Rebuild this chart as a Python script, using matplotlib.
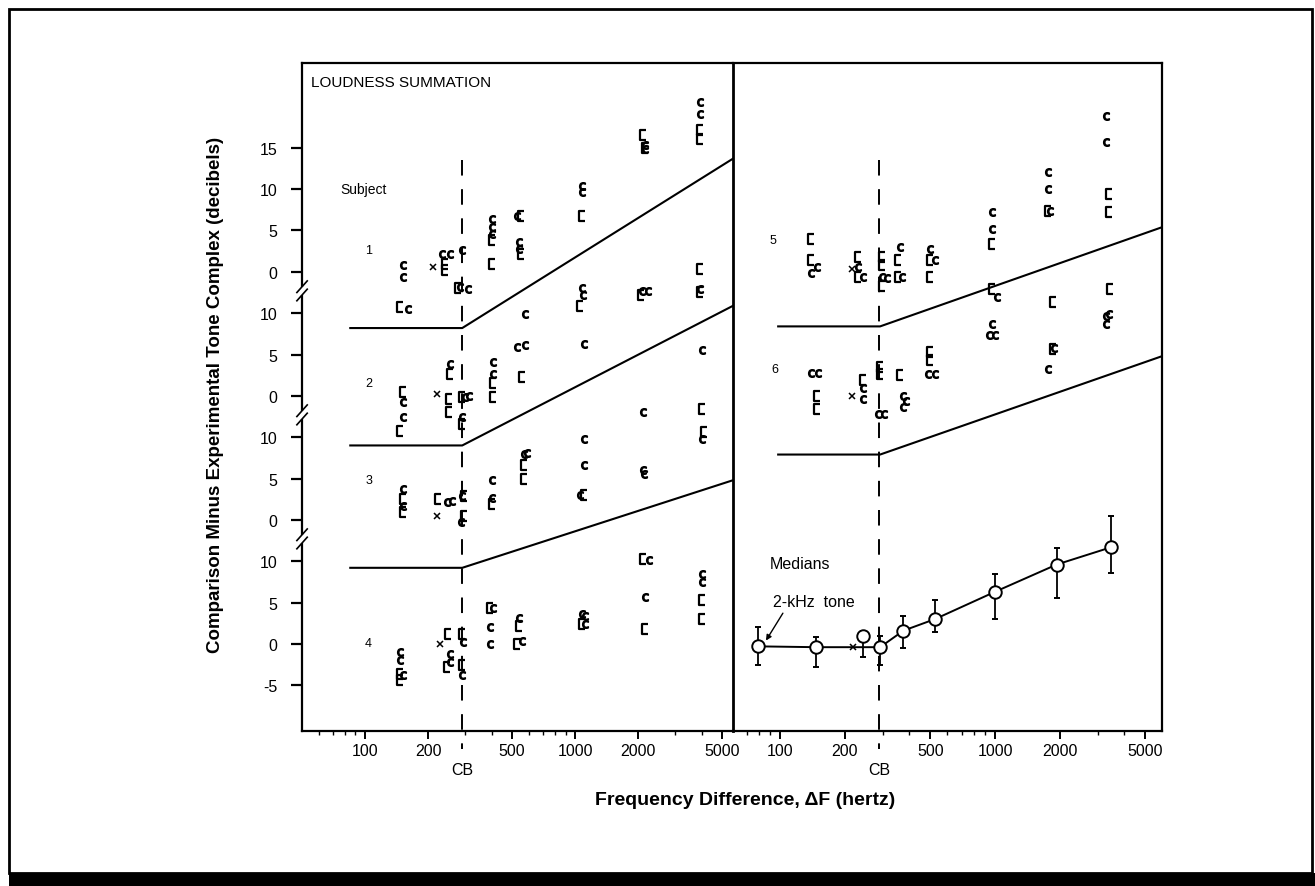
import numpy as np
import matplotlib
matplotlib.use("Agg")
import matplotlib.pyplot as plt
import matplotlib.ticker as ticker
import matplotlib.transforms as mtransforms
from matplotlib.patches import Rectangle
from matplotlib.path import Path

plt.rcParams["font.family"] = ["Liberation Sans", "DejaVu Sans"]

# ---- data (dB relative to each subject's own zero, frequency difference in Hz) ----
CB_HZ = 290

# vertical stacking of subjects (dB shift on the shared axis)
OFFSETS = {1: 0, 2: -15, 3: -30, 4: -45, 5: 0, 6: -15, "med": -45}
SUBJ_TICKS = {1: [0, 5, 10, 15], 2: [0, 5, 10], 3: [0, 5, 10], 4: [-5, 0, 5, 10]}

# "c" symbols and "[" symbols per subject
S1_C_HZ = [152, 152, 160, 232, 254, 289, 283, 308, 401, 401, 401, 527, 540, 540,
           1076, 1076, 1076, 1090, 2150, 2150, 2090, 2230, 3940, 3940, 3940]
S1_C_DB = [0.8, -0.6, -4.5, 2.2, 2.2, 2.6, -1.8, -2.1, 6.4, 5.4, 4.6, 6.8, 3.6, 2.8,
           10.4, 9.6, -2.0, -2.8, 15.4, 14.9, -2.3, -2.3, 20.5, 19.1, -2.1]
S1_B_HZ = [147, 240, 240, 276, 401, 401, 553, 553, 1076, 1060, 2115, 2150, 2060,
           3940, 3940, 3940, 3940]
S1_B_DB = [-4.3, 1.0, 0.2, -2.0, 3.8, 0.9, 6.8, 2.2, 6.8, -4.1, 16.6, 15.0, -2.8,
           17.1, 16.1, 0.4, -2.5]

S2_C_HZ = [578, 527, 578, 1096, 4009, 254, 408, 408, 300, 312, 290, 152, 152, 2115]
S2_C_DB = [9.9, 5.9, 6.1, 6.3, 5.5, 3.9, 4.1, 2.7, -0.1, 0.0, -2.5, -0.8, -2.6, -2.0]
S2_B_HZ = [254, 408, 408, 557, 250, 250, 288, 290, 152, 147, 4009]
S2_B_DB = [2.7, 1.5, -0.2, 2.3, -0.4, -2.0, -0.1, -3.4, 0.45, -4.2, -1.6]

S3_C_HZ = [4009, 1096, 1096, 2115, 2130, 568, 590, 1060, 401, 401, 152, 152, 245, 258, 290, 287]
S3_C_DB = [9.8, 9.8, 6.6, 6.0, 5.6, 8.0, 8.1, 3.0, 4.8, 2.6, 3.7, 1.7, 2.1, 2.3, 2.9, -0.3]
S3_B_HZ = [4100, 568, 568, 1096, 401, 152, 152, 223, 296, 297]
S3_B_DB = [10.6, 6.6, 5.0, 3.0, 1.9, 2.55, 0.9, 2.5, 2.9, 0.5]

S4_C_HZ = [147, 147, 152, 254, 254, 292, 290, 405, 394, 394, 538, 560, 1076, 1120, 1120,
           2250, 2150, 4000, 4000]
S4_C_DB = [-1.0, -2.0, -3.8, -1.2, -2.2, 0.2, -3.8, 4.3, 2.0, 0.0, 3.1, 0.4, 3.6, 3.4, 2.4,
           10.1, 5.7, 8.5, 7.5]
S4_B_HZ = [147, 147, 249, 245, 288, 288, 394, 538, 530, 1076, 2100, 2150, 4000, 4000]
S4_B_DB = [-3.6, -4.4, 1.2, -2.8, 1.2, -2.6, 4.3, 2.2, 0.0, 2.4, 10.3, 1.8, 5.3, 3.0]

S5_C_HZ = [148, 140, 231, 244, 297, 313, 361, 370, 499, 526, 966, 966, 1018, 1770, 1770,
           1800, 3300, 3300]
S5_C_DB = [0.6, -0.2, 0.6, -0.6, -0.6, -0.7, 3.0, -0.6, 2.8, 1.4, 7.2, 5.2, -3.1, 12.1, 10.0,
           7.4, 18.9, 15.7]
S5_B_HZ = [140, 140, 231, 231, 297, 297, 297, 355, 355, 499, 499, 966, 966, 1770, 1870,
           3400, 3400, 3430]
S5_B_DB = [4.0, 1.4, 1.8, -0.6, 1.8, 0.8, -1.7, 1.4, -0.6, 1.4, -0.6, 3.4, -2.1, 7.4, -3.7,
           9.4, 7.2, -2.1]

S6_C_HZ = [3300, 3400, 3300, 966, 940, 1000, 1880, 1770, 490, 526, 375, 385, 375, 285, 305,
           244, 244, 140, 150]
S6_C_DB = [9.7, 9.9, 8.7, 8.7, 7.3, 7.3, 5.8, 3.3, 2.7, 2.7, 0.0, -0.6, -1.3, -2.2, -2.2,
           0.9, -0.4, 2.8, 2.8]
S6_B_HZ = [1870, 499, 499, 361, 292, 292, 244, 148, 148]
S6_B_DB = [5.7, 5.3, 4.3, 2.5, 3.5, 2.7, 1.9, 0.0, -1.6]

# "x" symbols (subjects 1-4 left, 5-6 right)
X_SUBJ = [1, 2, 3, 4, 5, 6]
X_HZ = [210, 219, 219, 228, 215, 215]
X_DB = [0.6, 0.2, 0.5, 0.0, 0.4, 0.0]

# prediction lines
LINE_L_HZ = [85, 290, 5650]
LINE_L_DB = {1: [-6.8, -6.8, 13.7], 2: [-6.0, -6.0, 10.9], 3: [-5.8, -5.8, 4.8]}
LINE_R_HZ = [98, 292, 5985]
LINE_R_DB = {5: [-6.6, -6.6, 5.4], 6: [-7.1, -7.1, 4.8]}

# medians (first point = 2-kHz tone)
MED_HZ = [79, 147, 244, 292, 375, 526, 1000, 1937, 3480]
MED_DB = [-0.3, -0.4, 1.0, -0.4, 1.6, 3.0, 6.3, 9.6, 11.7]
MED_HI = [2.0, 0.8, 1.6, 1.0, 3.4, 5.3, 8.4, 11.6, 15.5]
MED_LO = [-2.6, -2.8, -1.6, -2.6, -0.5, 1.4, 3.0, 5.6, 8.6]
MED_LINE_HZ = [79, 147, 218, 292, 375, 526, 1000, 1937, 3480]
MED_LINE_DB = [-0.3, -0.4, -0.4, -0.4, 1.6, 3.0, 6.3, 9.6, 11.7]
MED_X = (218, -0.4)

XTICKS = [100, 200, 500, 1000, 2000, 5000]

# symbol shapes: open "c" and a short square bracket
C_MARK = r"$\mathsf{c}$"
B_MARK = Path([(0.35, 0.5), (-0.35, 0.5), (-0.35, -0.5), (0.35, -0.5)],
              [Path.MOVETO, Path.LINETO, Path.LINETO, Path.LINETO])


def glyphs(ax, subj, c_hz, c_db, b_hz, b_db):
    off = OFFSETS[subj]
    ax.plot(c_hz, np.array(c_db) + off, ls="none", marker=C_MARK, ms=5.5, color="k")
    ax.plot(b_hz, np.array(b_db) + off, ls="none", marker=B_MARK, ms=7, mfc="none",
            mec="k", mew=1.6)


def style_axis(ax, xlim):
    ax.set_xscale("log")
    ax.set_xlim(*xlim)
    ax.set_ylim(-55.5, 25.2)
    ax.xaxis.set_major_locator(ticker.FixedLocator(XTICKS))
    ax.xaxis.set_major_formatter(ticker.FixedFormatter([str(t) for t in XTICKS]))
    ax.xaxis.set_minor_locator(ticker.LogLocator(subs=np.arange(2, 10)))
    ax.xaxis.set_minor_formatter(ticker.NullFormatter())
    ax.tick_params(axis="x", which="major", direction="out", length=6, width=1.4,
                   labelsize=11.5, pad=3)
    ax.tick_params(axis="x", which="minor", direction="out", length=3, width=1)
    for s in ax.spines.values():
        s.set_linewidth(1.6)
    # CB dashed line, running below the axis
    ax.plot([CB_HZ, CB_HZ], [13.5, -57.7], color="k", lw=1.4, ls=(0, (8, 7)),
            clip_on=False)
    trans = mtransforms.blended_transform_factory(ax.transData, ax.transAxes)
    ax.text(CB_HZ, -0.058, "CB", transform=trans, ha="center", va="center", fontsize=11.5)


fig = plt.figure(figsize=(13.15, 8.87), dpi=100)

# outer frame of the page
fig.patches.append(Rectangle((0.0068, 0.0147), 0.9909, 0.974, transform=fig.transFigure,
                             fill=False, lw=2, ec="k"))
fig.patches.append(Rectangle((0.0068, 0.0), 0.9932, 0.0147, transform=fig.transFigure,
                             fc="k", ec="none"))

axL = fig.add_axes([0.2297, 0.1751, 0.3278, 0.7522])
axR = fig.add_axes([0.5574, 0.1751, 0.3263, 0.7522])
axR.patch.set_visible(False)

# ---- left panel: subjects 1-4 ----
style_axis(axL, (50.1, 5650))
axL.spines["right"].set_linewidth(2.0)
axL.spines["right"].set_zorder(10)
glyphs(axL, 1, S1_C_HZ, S1_C_DB, S1_B_HZ, S1_B_DB)
glyphs(axL, 2, S2_C_HZ, S2_C_DB, S2_B_HZ, S2_B_DB)
glyphs(axL, 3, S3_C_HZ, S3_C_DB, S3_B_HZ, S3_B_DB)
glyphs(axL, 4, S4_C_HZ, S4_C_DB, S4_B_HZ, S4_B_DB)
for subj, db in LINE_L_DB.items():
    axL.plot(LINE_L_HZ, np.array(db) + OFFSETS[subj], color="k", lw=1.5)

yt, yl = [], []
for subj, vals in SUBJ_TICKS.items():
    for v in vals:
        yt.append(v + OFFSETS[subj])
        yl.append(str(v))
axL.set_yticks(yt)
axL.set_yticklabels(yl)
axL.tick_params(axis="y", direction="out", length=8, width=1.6, labelsize=11.5, pad=10)

# axis breaks between stacked subjects
btrans = mtransforms.blended_transform_factory(axL.transAxes, axL.transData)
for subj in (1, 2, 3):
    yb = OFFSETS[subj] - 2.3
    axL.add_patch(Rectangle((-0.006, yb - 0.5), 0.012, 1.0, transform=btrans,
                            fc="white", ec="none", clip_on=False, zorder=5))
    for dy in (-0.5, 0.5):
        axL.plot([-0.012, 0.012], [yb + dy - 0.7, yb + dy + 0.7], transform=btrans,
                 color="k", lw=1.2, clip_on=False, zorder=6)

axL.text(0.02, 0.972, "LOUDNESS SUMMATION", transform=axL.transAxes, ha="left",
         va="center", fontsize=11)
axL.text(76, 10.0, "Subject", ha="left", va="center", fontsize=10)
SUBJ_LABEL_Y = {1: 2.6, 2: 1.5, 3: 4.8, 4: 0.1}
for subj, v in SUBJ_LABEL_Y.items():
    axL.text(104, v + OFFSETS[subj], str(subj), ha="center", va="center", fontsize=9)

# ---- right panel: subjects 5, 6 and medians ----
style_axis(axR, (60.4, 5985))
axR.spines["left"].set_visible(False)
axR.tick_params(axis="y", left=False, labelleft=False)
glyphs(axR, 5, S5_C_HZ, S5_C_DB, S5_B_HZ, S5_B_DB)
glyphs(axR, 6, S6_C_HZ, S6_C_DB, S6_B_HZ, S6_B_DB)
for subj, db in LINE_R_DB.items():
    axR.plot(LINE_R_HZ, np.array(db) + OFFSETS[subj], color="k", lw=1.5)
axR.text(93, 3.8 + OFFSETS[5], "5", ha="center", va="center", fontsize=9)
axR.text(95, 3.3 + OFFSETS[6], "6", ha="center", va="center", fontsize=9)

for subj, hz, db in zip(X_SUBJ, X_HZ, X_DB):
    ax = axL if subj <= 4 else axR
    ax.plot(hz, db + OFFSETS[subj], ls="none", marker="x", ms=4.5, mew=1.1, color="k")

moff = OFFSETS["med"]
axR.plot(MED_LINE_HZ, np.array(MED_LINE_DB) + moff, color="k", lw=1.4, zorder=2)
axR.plot(MED_X[0], MED_X[1] + moff, marker="x", ms=4.5, mew=1.1, color="k", zorder=3)
med = np.array(MED_DB)
axR.errorbar(MED_HZ, med + moff,
             yerr=[med - np.array(MED_LO), np.array(MED_HI) - med],
             fmt="o", ms=9, mfc="white", mec="k", mew=1.4, ecolor="k",
             elinewidth=1.3, capsize=2.5, capthick=1.3, zorder=4)
axR.text(89.8, -35.3, "Medians", ha="left", va="center", fontsize=11.5)
axR.annotate("2-kHz  tone", xy=(86, MED_DB[0] + moff + 0.7), xytext=(92.8, -39.9),
             ha="left", va="center", fontsize=11.5,
             arrowprops=dict(arrowstyle="-|>", color="k", lw=1.0, mutation_scale=8,
                             relpos=(0.15, 0.0), shrinkA=1, shrinkB=0))

fig.text(0.1635, 0.5547, "Comparison Minus Experimental Tone Complex (decibels)",
         rotation=90, ha="center", va="center", fontsize=13.5, fontweight="bold")
fig.text(0.567, 0.098, "Frequency Difference, \u0394F (hertz)", ha="center", va="center",
         fontsize=14, fontweight="bold")

fig.savefig("out.png", dpi=100)
